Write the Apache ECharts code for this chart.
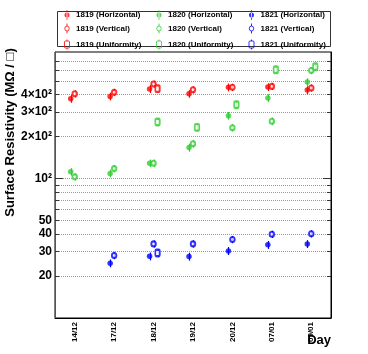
<!DOCTYPE html>
<html><head><meta charset="utf-8">
<script src="https://cdn.jsdelivr.net/npm/echarts@6/dist/echarts.min.js"></script>
<style>html,body{margin:0;padding:0;background:#fff}#c{width:368px;height:354px}</style>
</head><body><div id="c"></div>
<script>
// ---- data ----
const days = ['14/12', '17/12', '18/12', '19/12', '20/12', '07/01', '09/01'];

const s1819H = [374, 389, 440, 406, 452, 454, 432];
const s1819V = [406, 416, 477, 434, 452, 459, 447];
const s1819U = [null, null, 442, null, null, null, null];
const s1820H = [112, 109, 129, 167, 283, 379, 493];
const s1820V = [103, 118, 129, 178, 232, 258, 597];
const s1820U = [null, null, 255, 233, 339, 604, 635];
const s1821H = [null, 24.7, 27.7, 27.6, 30.3, 33.5, 34.0];
const s1821V = [null, 28.1, 34.0, 34.0, 36.6, 39.9, 40.2];
const s1821U = [null, null, 29.3, null, null, null, null];

const e1819H = [24, 25, 29, 26, 29, 29, 28];
const e1819V = [24, 25, 28, 26, 27, 27, 27];
const e1819U = [null, null, 26, null, null, null, null];
const e1820H = [7, 7, 8, 11, 18, 24, 31];
const e1820V = [6, 7, 8, 11, 14, 16, 36];
const e1820U = [null, null, 15, 14, 20, 36, 38];
const e1821H = [null, 1.6, 1.8, 1.8, 2.0, 2.2, 2.2];
const e1821V = [null, 1.7, 2.0, 2.0, 2.2, 2.4, 2.4];
const e1821U = [null, null, 1.8, null, null, null, null];

const yGridValues = [20, 30, 40, 50, 60, 70, 80, 90, 100, 200, 300, 400, 500, 600, 700];
const yLabelValues = [20, 30, 40, 50, 100, 200, 300, 400];
const yLabelTexts = ['20', '30', '40', '50', '10²', '2×10²', '3×10²', '4×10²'];

// ---- styling ----
const RED = '#ff0000', GREEN = '#33cc33', BLUE = '#0000ff';
const FONT = '"Liberation Sans", Arial, Helvetica, sans-serif';
const KIND = {
  H: {off: -4, symbol: 'circle', size: 5.5, empty: false},
  V: {off: 0, symbol: 'emptyCircle', size: [4.5, 5], empty: true},
  U: {off: 4, symbol: 'emptyRoundRect', size: [4.5, 6.5], empty: true}
};
const ICON = {
  H: 'path://M4.6,0 L5.4,0 L5.4,10 L4.6,10 Z M2.5,5 A2.5,2.5 0 1 0 7.5,5 A2.5,2.5 0 1 0 2.5,5 Z',
  V: 'path://M5,0 L5,2.5 M5,7.5 L5,10 M2.8,5 A2.2,2.5 0 1 0 7.2,5 A2.2,2.5 0 1 0 2.8,5 Z',
  U: 'path://M5,0 L5,1.5 M5,8.5 L5,10 M3.5,1.5 L6.5,1.5 Q7.5,1.5 7.5,2.5 L7.5,7.5 Q7.5,8.5 6.5,8.5 L3.5,8.5 Q2.5,8.5 2.5,7.5 L2.5,2.5 Q2.5,1.5 3.5,1.5 Z'
};

const groups = [
  {name: '1819 (Horizontal)', vals: s1819H, errs: e1819H, color: RED, kind: 'H'},
  {name: '1819 (Vertical)', vals: s1819V, errs: e1819V, color: RED, kind: 'V'},
  {name: '1819 (Uniformity)', vals: s1819U, errs: e1819U, color: RED, kind: 'U'},
  {name: '1820 (Horizontal)', vals: s1820H, errs: e1820H, color: GREEN, kind: 'H'},
  {name: '1820 (Vertical)', vals: s1820V, errs: e1820V, color: GREEN, kind: 'V'},
  {name: '1820 (Uniformity)', vals: s1820U, errs: e1820U, color: GREEN, kind: 'U'},
  {name: '1821 (Horizontal)', vals: s1821H, errs: e1821H, color: BLUE, kind: 'H'},
  {name: '1821 (Vertical)', vals: s1821V, errs: e1821V, color: BLUE, kind: 'V'},
  {name: '1821 (Uniformity)', vals: s1821U, errs: e1821U, color: BLUE, kind: 'U'}
];

function pts(vals, errs) {
  const out = [];
  vals.forEach((v, i) => { if (v != null) out.push([i, v, errs[i]]); });
  return out;
}

const series = [];
groups.forEach(g => {
  const k = KIND[g.kind];
  series.push({
    type: 'custom', name: g.name + ' err', silent: true, z: 2,
    encode: {x: 0, y: 1},
    data: pts(g.vals, g.errs),
    renderItem: (params, api) => {
      const i = api.value(0), v = api.value(1), e = api.value(2);
      const a = api.coord([i, v - e]), b = api.coord([i, v + e]);
      const x = Math.round(a[0] + k.off) + 0.5;
      return {type: 'line', shape: {x1: x, y1: a[1], x2: x, y2: b[1]},
              style: {stroke: g.color, lineWidth: 1.2}};
    }
  });
  series.push({
    type: 'scatter', name: g.name, z: 3,
    symbol: k.symbol, symbolSize: k.size, symbolOffset: [k.off, 0],
    itemStyle: k.empty ? {color: g.color, borderWidth: 1.1} : {color: g.color},
    data: pts(g.vals, g.errs).map(p => [p[0], p[1]])
  });
});

function legendCol(idx, left) {
  return {
    orient: 'vertical', left: left, top: 10, padding: 0,
    itemWidth: 10, itemHeight: 10, itemGap: 1,
    textStyle: {fontFamily: FONT, fontSize: 8, fontWeight: 'bold', color: '#000', padding: [0, 0, 0, -1]},
    data: groups.slice(idx * 3, idx * 3 + 3).map(g => ({
      name: g.name, icon: ICON[g.kind],
      itemStyle: KIND[g.kind].empty ? {color: 'none', borderColor: g.color, borderWidth: 1}
                                    : {color: g.color, borderWidth: 0}
    }))
  };
}

const yBase = {type: 'log', logBase: 10, min: 10, max: 810, gridIndex: 0};

const option = {
  animation: false,
  backgroundColor: '#fff',
  grid: {left: 55, right: 37, top: 52, bottom: 36, show: true, borderColor: '#000', borderWidth: 1},
  legend: [legendCol(0, 62), legendCol(1, 154), legendCol(2, 246.5)],
  xAxis: {
    type: 'category', data: days, boundaryGap: true,
    axisLine: {show: true, lineStyle: {color: '#000', width: 1}},
    axisTick: {show: false},
    axisLabel: {rotate: 90, margin: 4, fontFamily: FONT, fontSize: 8, fontWeight: 'bold', color: '#000'},
    splitLine: {show: false}
  },
  yAxis: [
    Object.assign({}, yBase, {
      position: 'left',
      axisLine: {show: true, lineStyle: {color: '#555', width: 1}},
      axisTick: {show: true, inside: true, length: 4, customValues: yGridValues, lineStyle: {color: '#333'}},
      axisLabel: {
        show: true, customValues: yLabelValues, margin: 3,
        fontFamily: FONT, fontSize: 12, fontWeight: 'bold', color: '#000',
        formatter: v => { const i = yLabelValues.indexOf(Math.round(v)); return i >= 0 ? yLabelTexts[i] : ''; }
      },
      splitLine: {show: true, lineStyle: {color: '#999', type: [1, 1], width: 1}}
    }),
    Object.assign({}, yBase, {
      position: 'right',
      axisLine: {show: true, lineStyle: {color: '#000', width: 1}},
      axisTick: {show: true, inside: true, length: 4, customValues: yGridValues, lineStyle: {color: '#333'}},
      axisLabel: {show: false}, splitLine: {show: false}
    }),
    Object.assign({}, yBase, {
      position: 'left', offset: 0,
      axisLine: {show: false},
      axisTick: {show: true, inside: true, length: 8, customValues: [100], lineStyle: {color: '#333'}},
      axisLabel: {show: false}, splitLine: {show: false}
    }),
    Object.assign({}, yBase, {
      position: 'right', offset: 0,
      axisLine: {show: false},
      axisTick: {show: true, inside: true, length: 8, customValues: [100], lineStyle: {color: '#333'}},
      axisLabel: {show: false}, splitLine: {show: false}
    })
  ],
  graphic: [
    {type: 'rect', left: 55, top: 9, shape: {width: 273, height: 35}, style: {fill: 'none', stroke: '#333', lineWidth: 1}, z: 0, silent: true},
    {type: 'text', x: 10, y: 132.5, rotation: Math.PI / 2,
     style: {text: 'Surface Resistivity (MΩ / □)', fontFamily: FONT, fontSize: 13, fontWeight: 'bold', fill: '#000', align: 'center', verticalAlign: 'middle'}},
    {type: 'text', x: 331, y: 334,
     style: {text: 'Day', fontFamily: FONT, fontSize: 13, fontWeight: 'bold', fill: '#000', align: 'right', verticalAlign: 'top'}}
  ],
  series: series
};

const chart = echarts.init(document.getElementById('c'), null, {renderer: 'canvas'});
chart.setOption(option);
</script>
</body></html>
